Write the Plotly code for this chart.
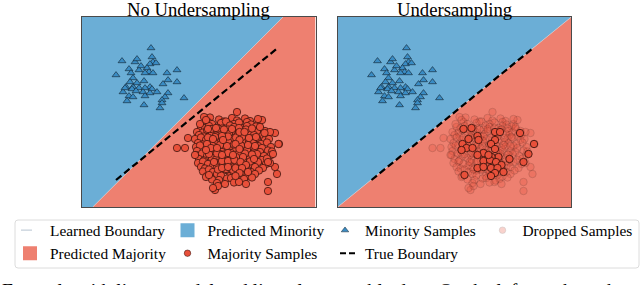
import plotly.graph_objects as go

# ---------------- data (panel data units) ----------------
minority_x = [6.9, 4.0, 5.3, 5.5, 7.0, 7.1, 6.8, 4.7, 5.7, 6.5, 6.7, 6.3, 7.1, 3.4, 4.9,
              5.1, 8.5, 9.5, 8.6, 9.5, 8.1, 6.2, 4.8, 4.4, 5.1, 5.5, 5.7, 6.8, 6.3, 7.0,
              4.1, 6.1, 6.8, 7.5, 8.6, 8.3, 4.7, 5.1, 6.3, 8.0, 4.5, 10.2, 6.2, 8.0, 7.8,
              4.3, 5.0, 5.9, 7.4, 5.4]
minority_y = [15.9, 14.6, 14.5, 14.8, 15.0, 14.5, 14.3, 13.8, 13.7, 13.9, 13.5, 13.4, 13.4, 13.2, 13.4,
              12.9, 13.4, 13.7, 12.7, 12.5, 12.3, 12.6, 12.5, 12.0, 12.0, 12.4, 11.9, 12.0, 11.9, 11.8,
              11.5, 11.5, 11.4, 11.5, 11.4, 11.0, 11.1, 11.0, 11.1, 10.7, 10.6, 10.9, 10.2, 10.4, 9.9,
              11.9, 11.8, 14.1, 14.4, 11.6]

majority_x = [
    12.8, 13.7, 14.2, 15.0, 15.5, 16.3, 16.8,
    12.6, 13.0, 13.9, 14.4, 15.2, 15.7, 16.5, 16.9, 17.6,
    11.9, 12.3, 12.7, 13.5, 14.0, 14.8, 15.2, 16.1, 16.5, 17.4, 17.8,
    11.5, 12.1, 12.5, 13.3, 13.8, 14.6, 15.0, 15.9, 16.3, 17.1, 17.5, 18.3,
    11.7, 12.2, 13.0, 13.4, 14.3, 14.7, 15.6, 16.0, 16.8, 17.2, 18.0, 18.4,
    11.3, 11.9, 12.4, 13.2, 13.7, 14.5, 14.9, 15.8, 16.2, 17.0, 17.5, 18.3, 18.7,
    11.6, 12.1, 12.9, 13.3, 14.1, 14.6, 15.4, 15.8, 16.7, 17.1, 17.9, 18.5,
    11.4, 11.8, 12.6, 13.1, 13.9, 14.3, 15.1, 15.6, 16.4, 16.8, 17.6, 18.0, 18.9,
    11.5, 12.3, 12.7, 13.6, 14.0, 14.8, 15.3, 16.1, 16.5, 17.3, 17.8, 18.6, 19.0,
    11.4, 12.0, 12.5, 13.3, 13.8, 14.6, 15.0, 15.9, 16.3, 17.1, 17.5, 18.2, 18.9,
    11.7, 12.2, 13.0, 13.4, 14.3, 14.7, 15.5, 16.0, 16.8, 17.2, 18.0, 18.5,
    11.6, 12.1, 12.6, 13.4, 13.9, 14.7, 15.1, 16.0, 16.4, 17.2, 17.6, 18.4,
    11.9, 12.3, 13.1, 13.5, 14.4, 14.8, 15.6, 16.1, 16.9, 17.3, 18.1,
    12.1, 12.7, 13.1, 13.9, 14.4, 15.2, 15.6, 16.5, 16.9, 17.7,
    12.5, 13.5, 13.9, 14.8, 15.2, 16.0, 16.5, 17.3,
    13.0, 13.7, 14.5, 14.9, 15.8, 16.2, 17.0,
    13.5, 14.3, 15.2, 15.7, 16.4,
    12.9, 13.6, 14.2, 15.0, 15.7, 16.4, 17.0,
    12.6, 13.3, 14.0, 14.6, 15.4, 16.0, 16.7, 17.4,
    13.0, 13.8, 14.5, 15.2, 15.9, 16.6, 17.3,
    12.7, 13.5, 14.2, 14.9, 15.6, 16.3, 17.0,
    13.2, 14.0, 14.7, 15.4, 16.1, 16.8,
    13.6, 14.4, 15.1, 15.8, 16.5,
    15.5, 12.2, 18.0, 10.6, 9.5, 10.3, 19.3, 19.7, 19.3, 19.5, 18.6, 18.6, 13.3, 13.6, 13.1,
    11.8, 17.8, 12.4, 17.6, 18.8, 11.3, 18.8, 12.4]
majority_y = [
    8.95, 8.75, 8.55, 8.9, 8.65, 8.85, 8.6,
    8.5, 8.3, 8.4, 8.55, 8.3, 8.45, 8.5, 8.25, 8.3,
    8.0, 7.9, 8.1, 7.95, 7.85, 8.15, 8.0, 7.9, 8.1, 8.05, 7.85,
    7.5, 7.45, 7.7, 7.55, 7.5, 7.75, 7.6, 7.45, 7.7, 7.6, 7.5, 7.6,
    7.2, 7.05, 7.3, 7.15, 7.1, 7.3, 7.2, 7.05, 7.35, 7.2, 7.1, 7.25,
    6.8, 6.95, 6.7, 6.85, 6.9, 6.65, 6.8, 6.95, 6.7, 6.85, 6.9, 6.7, 6.8,
    6.4, 6.25, 6.5, 6.35, 6.3, 6.55, 6.4, 6.25, 6.5, 6.4, 6.3, 6.45,
    6.0, 6.15, 5.9, 6.05, 6.1, 5.85, 6.0, 6.15, 5.9, 6.05, 6.1, 5.9, 6.0,
    5.6, 5.45, 5.7, 5.55, 5.5, 5.75, 5.6, 5.45, 5.7, 5.6, 5.5, 5.65, 5.55,
    5.2, 5.35, 5.1, 5.25, 5.3, 5.05, 5.2, 5.35, 5.1, 5.25, 5.3, 5.1, 5.2,
    4.8, 4.65, 4.9, 4.75, 4.7, 4.95, 4.8, 4.65, 4.9, 4.8, 4.7, 4.85,
    4.4, 4.55, 4.3, 4.45, 4.5, 4.25, 4.4, 4.55, 4.3, 4.45, 4.5, 4.3,
    4.0, 3.85, 4.1, 3.95, 3.9, 4.15, 4.0, 3.85, 4.1, 4.0, 3.9,
    3.55, 3.75, 3.5, 3.65, 3.7, 3.45, 3.6, 3.75, 3.5, 3.65,
    3.1, 3.3, 3.15, 3.1, 3.35, 3.2, 3.05, 3.3,
    2.75, 2.7, 2.85, 2.9, 2.65, 2.8, 2.95,
    2.4, 2.3, 2.45, 2.5, 2.3,
    7.8, 7.85, 7.75, 7.8, 7.9, 7.75, 7.85,
    6.95, 7.0, 6.9, 7.05, 6.95, 7.0, 6.9, 7.0,
    6.15, 6.2, 6.1, 6.25, 6.15, 6.2, 6.1,
    5.3, 5.35, 5.25, 5.4, 5.3, 5.35, 5.25,
    4.5, 4.6, 4.55, 4.5, 4.6, 4.55,
    3.75, 3.8, 3.7, 3.85, 3.75,
    9.5, 9.0, 8.7, 6.9, 5.9, 5.9, 7.4, 6.3, 4.0, 3.3, 2.5, 1.6, 1.7, 2.1, 1.9,
    8.3, 8.0, 8.7, 8.8, 7.5, 5.2, 4.4, 3.0]

# majority samples kept by undersampling
kept_x = [12.6, 13.4, 15.75, 16.25, 18.25, 14.0, 13.1, 14.1, 15.75, 19.65, 12.5, 12.9,
          13.5, 15.35, 15.75, 12.4, 14.6, 14.0, 16.1, 15.4, 17.2, 19.1, 14.6, 15.25,
          15.85, 18.6, 16.4, 14.0, 14.6, 15.35, 16.0, 16.6, 15.75, 15.35, 12.7, 15.1]
kept_y = [7.8, 7.9, 7.5, 7.5, 7.4, 7.1, 6.8, 6.7, 6.7, 6.3, 6.3, 5.9,
          5.9, 6.3, 5.8, 5.7, 5.4, 5.2, 5.0, 5.0, 4.8, 5.3, 4.6, 4.7,
          4.5, 4.5, 4.2, 3.9, 4.0, 3.9, 3.9, 3.5, 3.4, 3.1, 3.2, 5.2]

x_extent = [0, 23.35]
y_extent = [0, 19.0]
learned_left = (0.998, -1.07)     # slope, intercept
learned_right = (0.8137, -0.02)
true_boundary = (0.8165, -0.076)
true_x_span = [3.4, 19.5]

titles = ["No Undersampling", "Undersampling"]
legend_names = ["Learned Boundary", "Predicted Minority", "Minority Samples", "Dropped Samples",
                "Predicted Majority", "Majority Samples", "True Boundary"]
caption = "Example with linear model and linearly separable data. On the left we show the"

# ---------------- style ----------------
BLUE_REGION = "#6baed6"
RED_REGION = "#ee8070"
TRI_BLUE = "#3a8cc4"
CIRC_RED = "#e8503a"
FONT = "Liberation Serif"
W, H = 640, 285
PANEL_X = [(82, 315.5), (337.5, 571)]
PANEL_Y = (17, 207)


def clip_halfplane(m, c, above):
    x0, x1 = x_extent
    y0, y1 = y_extent
    box = [(x0, y0), (x1, y0), (x1, y1), (x0, y1)]
    f = (lambda p: p[1] - (m * p[0] + c)) if above else (lambda p: (m * p[0] + c) - p[1])
    out = []
    for i in range(len(box)):
        p, q = box[i], box[(i + 1) % len(box)]
        fp, fq = f(p), f(q)
        if fp >= 0:
            out.append(p)
        if (fp >= 0) != (fq >= 0):
            t = fp / (fp - fq)
            out.append((p[0] + t * (q[0] - p[0]), p[1] + t * (q[1] - p[1])))
    xs = [p[0] for p in out] + [out[0][0]]
    ys = [p[1] for p in out] + [out[0][1]]
    return xs, ys


def line_in_box(m, c):
    pts = []
    for yv in y_extent:
        xv = (yv - c) / m
        if x_extent[0] <= xv <= x_extent[1]:
            pts.append((xv, yv))
    for xv in x_extent:
        yv = m * xv + c
        if y_extent[0] < yv < y_extent[1]:
            pts.append((xv, yv))
    pts.sort()
    return [p[0] for p in pts], [p[1] for p in pts]


fig = go.Figure()
dropped_x, dropped_y = majority_x, majority_y
all_maj_x = majority_x + kept_x
all_maj_y = majority_y + kept_y

for i, (learned, ax) in enumerate([(learned_left, ""), (learned_right, "2")]):
    xa, ya = "x" + ax, "y" + ax
    m, c = learned
    bx, by = clip_halfplane(m, c, True)
    rx, ry = clip_halfplane(m, c, False)
    fig.add_trace(go.Scatter(x=bx, y=by, fill="toself", fillcolor=BLUE_REGION, mode="none",
                             showlegend=False, hoverinfo="skip", xaxis=xa, yaxis=ya))
    fig.add_trace(go.Scatter(x=rx, y=ry, fill="toself", fillcolor=RED_REGION, mode="none",
                             showlegend=False, hoverinfo="skip", xaxis=xa, yaxis=ya))
    lx, ly = line_in_box(m, c)
    fig.add_trace(go.Scatter(x=lx, y=ly, mode="lines", line=dict(color="#c9d3dc", width=0.6),
                             showlegend=False, hoverinfo="skip", xaxis=xa, yaxis=ya))
    fig.add_trace(go.Scatter(x=minority_x, y=minority_y, mode="markers",
                             marker=dict(symbol="triangle-up", size=6.8, color=TRI_BLUE,
                                         line=dict(color="#10202c", width=0.6)),
                             showlegend=False, xaxis=xa, yaxis=ya))
    if i == 0:
        fig.add_trace(go.Scatter(x=all_maj_x, y=all_maj_y, mode="markers",
                                 marker=dict(symbol="circle", size=7.4, color=CIRC_RED,
                                             line=dict(color="#2a0d08", width=0.7)),
                                 showlegend=False, xaxis=xa, yaxis=ya))
    else:
        fig.add_trace(go.Scatter(x=dropped_x, y=dropped_y, mode="markers",
                                 marker=dict(symbol="circle", size=7.4, color=CIRC_RED, opacity=0.25,
                                             line=dict(color="#2a0d08", width=0.7)),
                                 showlegend=False, xaxis=xa, yaxis=ya))
        fig.add_trace(go.Scatter(x=kept_x, y=kept_y, mode="markers",
                                 marker=dict(symbol="circle", size=7.4, color=CIRC_RED,
                                             line=dict(color="#2a0d08", width=0.8)),
                                 showlegend=False, xaxis=xa, yaxis=ya))
    tm, tc = true_boundary
    fig.add_trace(go.Scatter(x=true_x_span, y=[tm * v + tc for v in true_x_span], mode="lines",
                             line=dict(color="black", width=2.2, dash="7px,3.5px"),
                             showlegend=False, hoverinfo="skip", xaxis=xa, yaxis=ya))

# legend-only entries
legend_specs = [
    dict(mode="lines", line=dict(color="#c5d0da", width=1.2, dash="0px,6px,11px,60px")),
    dict(mode="markers", marker=dict(symbol="square", size=14, color=BLUE_REGION)),
    dict(mode="markers", marker=dict(symbol="triangle-up", size=6.5, color=TRI_BLUE,
                                     line=dict(color="#10202c", width=0.5))),
    dict(mode="markers", marker=dict(symbol="circle", size=6.5, color=CIRC_RED, opacity=0.25,
                                     line=dict(color="#2a0d08", width=0.5))),
    dict(mode="markers", marker=dict(symbol="square", size=14, color=RED_REGION)),
    dict(mode="markers", marker=dict(symbol="circle", size=6.5, color=CIRC_RED,
                                     line=dict(color="#2a0d08", width=0.5))),
    dict(mode="lines", line=dict(color="black", width=2.2, dash="0px,10px,6px,3px,6px,60px")),
]
for name, spec in zip(legend_names, legend_specs):
    fig.add_trace(go.Scatter(x=[None], y=[None], name=name, showlegend=True, **spec))

axis_common = dict(showgrid=False, zeroline=False, showticklabels=False, ticks="",
                   showline=True, mirror=True, linecolor="#4a4a4a", linewidth=1)
yd = [1 - PANEL_Y[1] / H, 1 - PANEL_Y[0] / H]
fig.update_layout(
    xaxis=dict(domain=[PANEL_X[0][0] / W, PANEL_X[0][1] / W], range=x_extent, **axis_common),
    yaxis=dict(domain=yd, range=y_extent, **axis_common),
    xaxis2=dict(domain=[PANEL_X[1][0] / W, PANEL_X[1][1] / W], range=x_extent, anchor="y2", **axis_common),
    yaxis2=dict(domain=yd, range=y_extent, anchor="x2", **axis_common),
)

# legend frame
lx0, lx1, ly0, ly1 = 15 / W, 639 / W, 1 - 268 / H, 1 - 220 / H
rx_, ry_ = 3 / W, 3 / H
path = (f"M {lx0+rx_},{ly1} L {lx1-rx_},{ly1} Q {lx1},{ly1} {lx1},{ly1-ry_} "
        f"L {lx1},{ly0+ry_} Q {lx1},{ly0} {lx1-rx_},{ly0} L {lx0+rx_},{ly0} "
        f"Q {lx0},{ly0} {lx0},{ly0+ry_} L {lx0},{ly1-ry_} Q {lx0},{ly1} {lx0+rx_},{ly1} Z")
fig.add_shape(type="path", path=path, xref="paper", yref="paper",
              line=dict(color="#dcdcdc", width=1), fillcolor="white", layer="above")

annotations = []
for t, (a, b) in zip(titles, PANEL_X):
    annotations.append(dict(text=t, x=(a + b) / 2 / W, y=1 - 9.6 / H, xref="paper", yref="paper",
                            xanchor="center", yanchor="middle", showarrow=False,
                            font=dict(family=FONT, size=18.7, color="black")))
annotations.append(dict(text=caption, x=0, y=1 - 290.5 / H, xref="paper", yref="paper",
                        xanchor="left", yanchor="middle", showarrow=False,
                        font=dict(family=FONT, size=19.6, color="black")))

fig.update_layout(
    width=W, height=H, autosize=False,
    margin=dict(l=0, r=0, t=0, b=0, pad=0, autoexpand=False),
    paper_bgcolor="white", plot_bgcolor="white",
    annotations=annotations,
    showlegend=True,
    legend=dict(orientation="h", x=10 / W, xanchor="left", y=1 - 213.7 / H, yanchor="top",
                bgcolor="rgba(0,0,0,0)", borderwidth=0, entrywidth=112.5, entrywidthmode="pixels",
                font=dict(family=FONT, size=15.4, color="black"), itemsizing="trace",
                tracegroupgap=0, traceorder="normal"),
)

fig.write_html("out.html", config={"displayModeBar": False},
               post_script="document.body.style.margin='0px'; document.body.style.overflow='hidden';")
